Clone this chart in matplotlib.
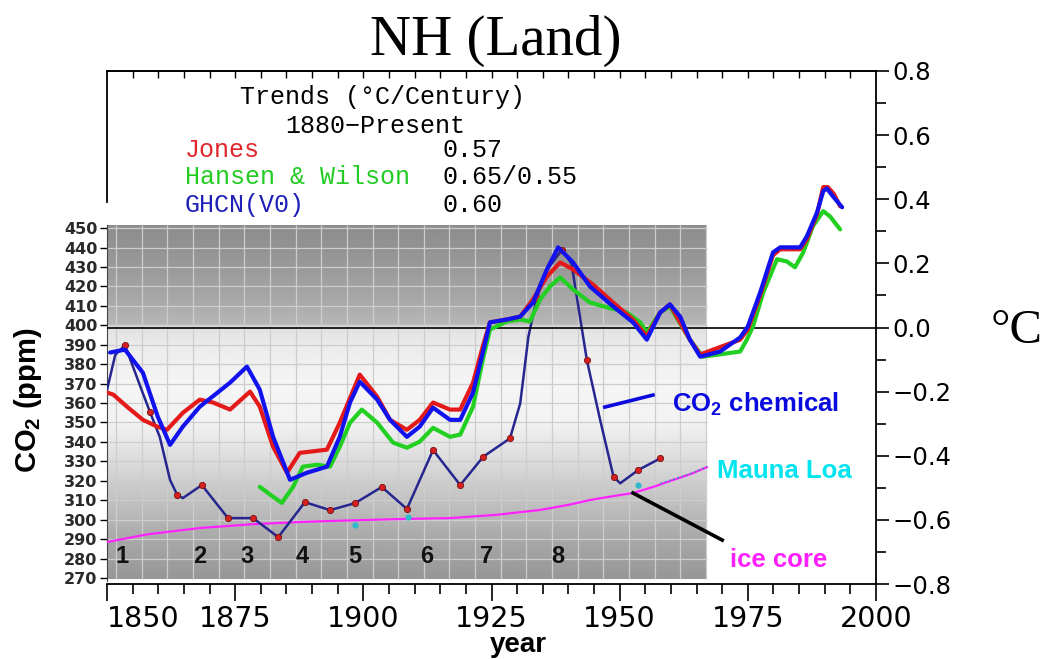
import numpy as np
import matplotlib.pyplot as plt

plt.rcParams['mathtext.fontset'] = 'custom'
plt.rcParams['mathtext.rm'] = 'Liberation Sans'
plt.rcParams['mathtext.bf'] = 'Liberation Sans:bold'

# NH land temperature anomalies (deg C)
ghcn_year = [1850.6, 1853.5, 1857.0, 1859.9, 1862.3, 1864.8, 1868.1, 1874.0, 1877.3, 1879.8,
             1882.4, 1885.7, 1889.0, 1892.9, 1895.4, 1897.4, 1899.3, 1902.7, 1905.2, 1908.5,
             1911.0, 1913.6, 1916.9, 1918.9, 1921.4, 1923.3, 1924.7, 1928.0, 1930.6, 1933.1,
             1935.8, 1938.0, 1940.9, 1944.2, 1948.7, 1952.6, 1955.3, 1957.9, 1959.8, 1961.8,
             1963.7, 1965.7, 1969.6, 1973.5, 1975.0, 1977.4, 1979.9, 1981.3, 1985.2, 1986.5,
             1988.5, 1989.7, 1990.4, 1991.6, 1993.4]
ghcn_temp = [-0.078, -0.069, -0.141, -0.278, -0.366, -0.309, -0.247, -0.172, -0.122, -0.194,
             -0.341, -0.475, -0.453, -0.434, -0.341, -0.234, -0.169, -0.225, -0.288, -0.341,
             -0.309, -0.250, -0.288, -0.288, -0.203, -0.078, 0.016, 0.025, 0.034, 0.078,
             0.181, 0.250, 0.203, 0.128, 0.066, 0.016, -0.038, 0.047, 0.072, 0.034,
             -0.038, -0.091, -0.075, -0.031, 0.003, 0.109, 0.234, 0.250, 0.250, 0.284,
             0.359, 0.425, 0.434, 0.409, 0.375]

jones_year = [1850.0, 1851.2, 1853.9, 1857.0, 1859.8, 1861.7, 1864.8, 1868.1, 1870.7, 1874.0,
              1877.9, 1879.8, 1882.4, 1885.1, 1887.6, 1892.9, 1895.4, 1899.3, 1902.7, 1905.2,
              1908.5, 1911.0, 1913.6, 1916.9, 1918.9, 1921.4, 1923.3, 1924.7, 1928.0, 1930.6,
              1933.1, 1935.8, 1938.4, 1940.9, 1944.8, 1948.7, 1952.6, 1955.3, 1957.9, 1959.8,
              1963.7, 1965.7, 1973.5, 1975.0, 1977.4, 1979.9, 1981.3, 1985.2, 1986.5, 1988.5,
              1989.7, 1990.6, 1991.8, 1993.0]
jones_temp = [-0.203, -0.209, -0.247, -0.288, -0.309, -0.319, -0.266, -0.225, -0.234, -0.256,
              -0.200, -0.247, -0.372, -0.453, -0.391, -0.381, -0.297, -0.147, -0.216, -0.288,
              -0.319, -0.288, -0.234, -0.256, -0.256, -0.172, -0.059, 0.016, 0.025, 0.034,
              0.088, 0.159, 0.203, 0.181, 0.134, 0.078, 0.025, -0.028, 0.047, 0.072,
              -0.038, -0.084, -0.038, -0.006, 0.100, 0.225, 0.244, 0.244, 0.275, 0.353,
              0.438, 0.438, 0.416, 0.378]

hansen_year = [1879.8, 1882.4, 1884.1, 1886.3, 1888.2, 1891.0, 1893.5, 1895.4, 1897.4, 1899.7,
               1902.7, 1905.8, 1908.5, 1911.0, 1913.6, 1916.9, 1918.9, 1921.4, 1923.3, 1924.7,
               1928.0, 1930.6, 1932.5, 1934.5, 1936.4, 1938.4, 1940.9, 1944.2, 1947.5, 1951.4,
               1954.0, 1955.3, 1957.9, 1959.8, 1963.7, 1966.2, 1973.5, 1974.8, 1976.0, 1978.0,
               1980.7, 1982.6, 1984.2, 1985.8, 1987.7, 1989.7, 1991.0, 1993.0]
hansen_temp = [-0.497, -0.528, -0.547, -0.497, -0.434, -0.428, -0.434, -0.372, -0.297, -0.256,
               -0.297, -0.359, -0.375, -0.356, -0.313, -0.341, -0.334, -0.247, -0.100, -0.006,
               0.019, 0.025, 0.019, 0.088, 0.128, 0.156, 0.119, 0.078, 0.063, 0.047,
               0.016, -0.016, 0.047, 0.066, -0.038, -0.091, -0.075, -0.038, 0.003, 0.109,
               0.213, 0.206, 0.188, 0.234, 0.316, 0.363, 0.347, 0.306]

# CO2 (ppm): chemical measurements, ice core, Mauna Loa
chem_year = [1850.0, 1851.6, 1853.5, 1857.0, 1858.4, 1860.3, 1862.3, 1863.7, 1864.8, 1868.5,
             1873.6, 1878.5, 1883.4, 1888.6, 1893.5, 1898.4, 1903.6, 1908.5, 1913.6, 1918.9,
             1923.4, 1928.6, 1930.6, 1932.2, 1933.8, 1935.8, 1938.7, 1940.6, 1943.6, 1946.2,
             1948.8, 1950.1, 1953.6, 1957.9]
chem_ppm = [366.7, 384.7, 389.8, 365.0, 355.3, 342.5, 320.4, 312.7, 311.1, 317.8,
            300.8, 300.8, 291.0, 309.0, 304.9, 308.5, 316.8, 305.5, 335.8, 317.8,
            332.4, 341.8, 359.8, 394.1, 413.8, 428.4, 438.7, 431.8, 382.1, 351.2,
            322.1, 318.7, 325.5, 331.5]
sample_year = [1853.5, 1858.4, 1863.7, 1868.5, 1873.6, 1878.5, 1883.4, 1888.6, 1893.5, 1898.4,
               1903.6, 1908.5, 1913.6, 1918.9, 1923.4, 1928.6, 1933.8, 1938.7, 1943.6, 1948.8,
               1953.6, 1957.9]
sample_ppm = [389.8, 355.3, 312.7, 317.8, 300.8, 300.8, 291.0, 309.0, 304.9, 308.5,
              316.8, 305.5, 335.8, 317.8, 332.4, 341.8, 413.8, 438.7, 382.1, 322.1,
              325.5, 331.5]

ice_year = [1850.0, 1858.0, 1868.1, 1878.0, 1887.6, 1897.0, 1907.1, 1916.9, 1926.0, 1934.5,
            1940.0, 1944.2, 1948.0, 1952.6, 1956.5, 1960.4, 1964.0, 1967.0]
ice_ppm = [288.5, 292.5, 295.7, 297.6, 298.8, 299.6, 300.3, 300.8, 302.5, 305.0,
           307.6, 310.1, 311.8, 313.7, 316.8, 320.4, 323.6, 327.0]

loa_year = [1958.0, 1960.0, 1962.0, 1964.0, 1966.0, 1967.0]
loa_ppm = [318.6, 320.4, 322.0, 323.9, 326.0, 327.3]
dot_year = [1898.4, 1908.8, 1953.6]
dot_ppm = [297.2, 301.5, 317.8]

period_labels = ['1', '2', '3', '4', '5', '6', '7', '8']
period_year = [1852.9, 1868.1, 1877.3, 1888.0, 1898.4, 1912.4, 1924.1, 1938.0]

temp_ticks = [-0.8, -0.6, -0.4, -0.2, 0.0, 0.2, 0.4, 0.6, 0.8]
temp_ticklabels = ['\u22120.8', '\u22120.6', '\u22120.4', '\u22120.2', '0.0', '0.2', '0.4', '0.6', '0.8']
year_ticks = [1850, 1875, 1900, 1925, 1950, 1975, 2000]

W, H = 1045, 659
def fx(x):
    return x / W
def fy(y):
    return 1 - y / H

fig = plt.figure(figsize=(W / 100, H / 100), dpi=100)
ax = fig.add_axes([fx(107), fy(584), (876 - 107) / W, (584 - 71) / H])
ax2 = ax.twinx()
ax.set_zorder(ax2.get_zorder() + 1)
ax.patch.set_visible(False)

# --- CO2 inset (gray gradient panel) ---
shade_ppm = [269.5, 290, 310, 330, 350, 370, 390, 399.5, 400.5, 410, 430, 451.5]
shade_val = [0.59, 0.66, 0.76, 0.86, 0.95, 0.96, 0.92, 0.88, 0.72, 0.67, 0.60, 0.55]
yy = np.linspace(269.5, 451.5, 500)
col = np.interp(yy, shade_ppm, shade_val)
ax2.imshow(col[:, None], extent=[1850, 1967, 269.5, 451.5], origin='lower',
           aspect='auto', cmap='gray', vmin=0, vmax=1, zorder=0, interpolation='bilinear')
ax2.hlines(np.arange(280, 451, 10), 1850, 1967, color='#cdcdcd', lw=0.9, zorder=1)
ax2.vlines(np.arange(1851.8, 1967, 5), 269.5, 451.5, color='#cdcdcd', lw=0.9, zorder=1)

ax2.plot(ice_year, ice_ppm, color='#ff22ff', lw=1.6, zorder=3)
ax2.plot(loa_year, loa_ppm, color='#3a8faa', lw=1.2, ls=':', zorder=4)
ax2.plot(dot_year, dot_ppm, 'o', color='#30b8cc', ms=3.5, zorder=4)
ax2.plot(chem_year, chem_ppm, color='#26268f', lw=1.8, zorder=5, solid_joinstyle='round')
ax2.plot(sample_year, sample_ppm, 'o', color='#d42020', mec='#7a1010', mew=0.6, ms=4.5, zorder=6)

for lab, yr in zip(period_labels, period_year):
    ax2.text(yr, 280.8, lab, fontsize=17, fontweight='bold', family='Liberation Sans',
             ha='center', va='center', color='#111111', zorder=7)

ax2.plot([1947.1, 1956.5], [357.9, 364.1], color='#0a0ade', lw=2.6, zorder=7, clip_on=False)
ax2.plot([1952.6, 1970.0], [313.7, 289.5], color='black', lw=2.6, zorder=7, clip_on=False)
ax2.text(1960.2, 355.3, r'$\mathbf{CO_2}$ chemical', fontsize=18.5, fontweight='bold',
         family='Liberation Sans', color='#0a0ade', ha='left', va='baseline', zorder=8)
ax2.text(1969.0, 321.4, 'Mauna Loa', fontsize=18.5, fontweight='bold',
         family='Liberation Sans', color='#00e4f0', ha='left', va='baseline', zorder=8)
ax2.text(1971.5, 275.6, 'ice core', fontsize=18.5, fontweight='bold',
         family='Liberation Sans', color='#ff20ff', ha='left', va='baseline', zorder=8)

ax2.set_ylim(266.9, 530.8)
ax2.yaxis.tick_left()
ax2.set_yticks(np.arange(270, 451, 10))
ax2.tick_params(axis='y', direction='out', length=5, width=1, labelsize=11.5, pad=2,
                labelcolor='#2a2a2a', left=True, right=False, labelleft=True, labelright=False)
for lab in ax2.get_yticklabels():
    lab.set_fontweight('bold')
for s in ['top', 'bottom', 'right']:
    ax2.spines[s].set_visible(False)
ax2.spines['left'].set_bounds(268.5, 451.5)
ax2.spines['left'].set_color('#444444')

# --- temperature panel ---
kw = dict(lw=3.0, solid_capstyle='round', solid_joinstyle='round')
ax.plot(hansen_year, hansen_temp, color='#22d022', zorder=3, **kw)
ax.plot(jones_year, jones_temp, color='#e41a1a', zorder=4, **kw)
ax.plot(ghcn_year, ghcn_temp, color='#1212ee', zorder=5, **kw)
ax.axhline(0, color='black', lw=1.2, zorder=2)

ax.set_xlim(1850, 2000)
ax.set_ylim(-0.8, 0.8)
ax.yaxis.tick_right()
ax.set_yticks(temp_ticks)
ax.set_yticklabels(temp_ticklabels)
ax.set_yticks(np.arange(-0.7, 0.8, 0.2), minor=True)
ax.tick_params(axis='y', which='major', direction='out', length=9, width=1.2, labelsize=17.5,
               pad=3, left=False, right=True, labelleft=False, labelright=True)
ax.tick_params(axis='y', which='minor', direction='out', length=7, width=1.2, left=False, right=True)
ax.set_xticks(year_ticks)
ax.set_xticks(np.arange(1850, 2001, 5), minor=True)
ax.tick_params(axis='x', which='major', direction='out', length=12, width=1.2, labelsize=20.5, pad=3)
ax.tick_params(axis='x', which='minor', direction='out', length=7, width=1.2)
ax.get_xticklabels()[0].set_horizontalalignment('left')

sec = ax.secondary_xaxis('top')
sec.set_xticks(np.arange(1855, 2000, 5))
sec.tick_params(direction='in', length=5, width=1, labeltop=False)
sec.spines['top'].set_linewidth(1.2)

for s in ['top', 'bottom', 'right', 'left']:
    ax.spines[s].set_linewidth(1.3)
ax.spines['left'].set_bounds(0.39, 0.8)

# --- text ---
fig.text(fx(496), fy(55), 'NH (Land)', family='Liberation Serif', fontsize=41, ha='center', va='baseline')
fig.text(fx(991), fy(343), '\u00b0C', family='Liberation Serif', fontsize=35, ha='left', va='baseline')
fig.text(fx(28), fy(400), r'$\mathbf{CO_2}$ (ppm)', family='Liberation Sans', fontweight='bold',
         fontsize=21, rotation=90, ha='center', va='center')
fig.text(fx(518), fy(645), 'year', family='Liberation Sans', fontweight='bold', fontsize=20,
         ha='center', va='center')

mono = 'Liberation Mono'
fig.text(fx(382), fy(97), 'Trends (\u00b0C/Century)', family=mono, fontsize=18, ha='center', va='center')
fig.text(fx(375), fy(126), '1880\u2212Present', family=mono, fontsize=18, ha='center', va='center')
rows = [('Jones', '0.57', '#e0262b', 150), ('Hansen & Wilson', '0.65/0.55', '#22cc22', 177),
        ('GHCN(V0)', '0.60', '#2020b8', 205)]
for name, val, c, y in rows:
    fig.text(fx(185), fy(y), name, family=mono, fontsize=18, color=c, ha='left', va='center')
    fig.text(fx(442), fy(y), val, family=mono, fontsize=18, color='black', ha='left', va='center')

fig.savefig('out.png', dpi=100)
